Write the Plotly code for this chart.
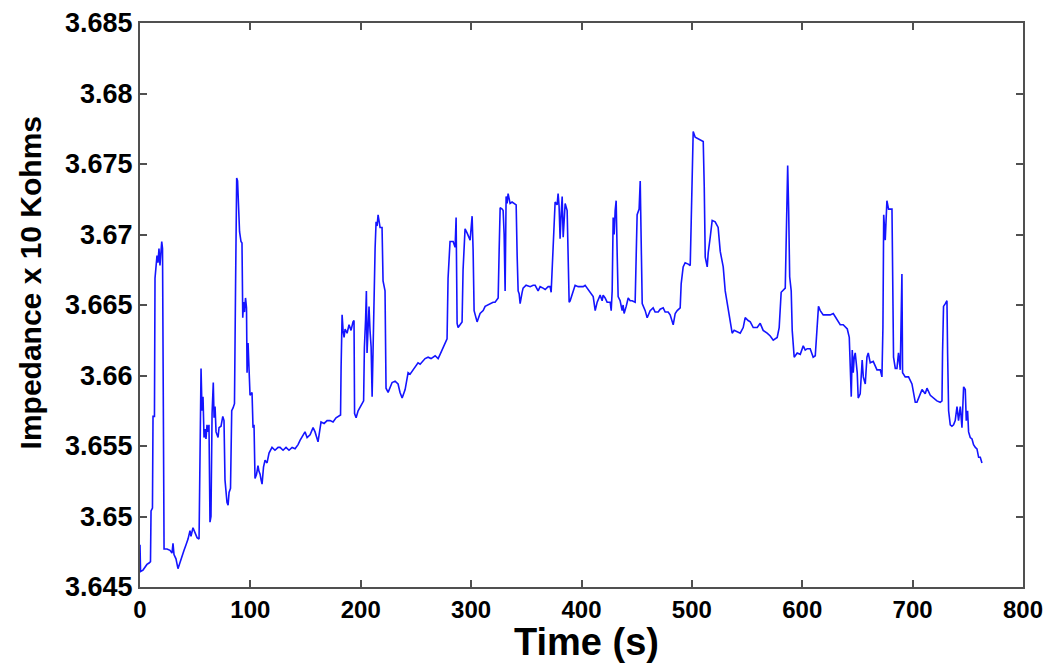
import plotly.graph_objects as go

# Impedance trace (time in s, impedance in x10 kOhm)
time_s = [
    0, 0.5, 2.7, 4.5, 6.3, 8.2, 9.5, 10.0, 11.3, 11.8, 13.1, 13.6, 14.5, 15.4, 16.3, 17.2,
    18.1, 19.0, 19.7, 20.4, 21.1, 21.8, 24.5, 27.2, 29.0, 29.9, 30.8, 32.6, 34.4, 36.3,
    38.1, 39.9, 41.7, 43.5, 45.3, 46.2, 48.0, 49.8, 51.7, 53.5, 54.4, 55.3, 56.2, 57.1,
    58.0, 58.9, 59.8, 60.7, 61.6, 62.5, 63.4, 64.3, 65.3, 66.4, 67.1, 68.0, 68.9, 70.7,
    71.6, 73.4, 75.0, 76.1, 77.0, 78.8, 79.8, 80.7, 82.0, 83.1, 84.3, 85.6, 86.6, 87.6,
    88.4, 89.1, 90.2, 91.5, 92.4, 93.1, 93.8, 94.7, 95.6, 96.5, 97.0, 97.9, 98.8, 99.7,
    101.5, 102.4, 103.3, 104.2, 105.6, 106.9, 107.8, 108.8, 109.7, 110.6, 111.9, 113.3,
    115.1, 116.9, 119.6, 122.3, 125.1, 126.9,
    129.6, 132.3, 135.0, 137.8, 140.5, 143.2, 145.0, 147.7, 149.5, 151.4, 154.1, 156.8,
    158.6, 161.3, 164.0, 166.8, 169.5, 172.2, 174.9, 177.6, 180.4, 181.7, 182.2, 183.1,
    184.0, 184.9, 185.8, 187.6, 189.4, 191.2, 193.0, 193.9, 194.4, 195.8, 197.6, 199.4,
    201.2, 202.6, 203.3, 204.4, 205.1, 205.7, 206.6, 207.5, 208.4, 209.4, 210.3, 211.2,
    212.1, 213.0, 213.9, 214.8, 215.7, 216.6, 217.5, 219.3, 220.2, 222.0, 222.9, 224.8,
    226.6, 228.4, 231.1, 233.8, 235.6, 237.5, 240.2, 242.9, 244.7, 247.4, 249.2, 251.9,
    253.8, 256.5, 258.3, 261.0, 263.7, 267.4, 270.1, 271.9, 274.6, 276.4, 278.2,
    279.1, 280.9, 283.7, 285.5, 286.4, 287.3, 288.2, 290.0, 291.8, 292.7, 294.5, 296.4,
    298.2, 299.1, 300.9, 301.8, 302.7, 305.4, 308.1, 310.9, 312.7, 315.4, 317.2, 319.9,
    321.7, 324.5, 325.4, 326.3, 328.1, 329.0, 329.9, 330.8, 331.7, 332.6, 333.5, 335.3,
    337.1, 339.0, 340.8, 341.7, 342.6, 343.5, 344.4, 346.2, 347.1, 349.8, 353.5, 356.2,
    358.0, 360.7, 362.5, 365.2, 367.1, 369.8, 371.6, 372.5, 374.3, 376.1, 377.9, 378.8,
    379.7, 380.6, 381.6, 382.5, 383.4, 384.3, 385.2, 387.0, 387.9, 388.8, 389.7, 391.5,
    392.4, 394.2, 397.0, 398.8, 401.5, 403.3, 406.0, 407.8,
    410.6, 412.4, 414.2, 416.9, 418.7, 419.6, 421.4, 423.2, 426.0, 426.9, 427.8, 428.7,
    429.6, 430.5, 431.4, 432.3, 433.2, 435.0, 436.8, 437.7, 438.6, 440.5, 442.3, 444.1,
    445.9, 448.6, 449.5, 450.4, 452.2, 453.2, 454.1, 455.0, 457.7, 459.5, 462.2, 464.9,
    466.7, 469.5, 471.3, 474.0, 475.8, 478.5, 480.3, 482.1, 483.1, 484.9, 486.7, 489.4,
    490.3, 492.1, 493.9, 496.7, 498.5, 499.4, 500.3, 501.2, 503.0, 505.7, 507.5, 510.3,
    511.2, 512.1, 513.9, 514.8, 516.6, 518.4, 521.1, 523.8, 525.7, 528.4, 530.2, 532.0,
    534.7, 536.5, 538.3, 541.1, 543.8, 546.5, 548.3, 551.0, 552.9, 555.6, 559.2, 561.9,
    564.6, 568.2, 571.0, 573.7, 577.3, 579.1, 580.9, 584.6, 585.5, 586.8, 587.7, 588.6,
    590.0, 590.9, 592.7, 595.4, 598.2, 600.9, 602.7, 604.5, 607.2, 609.9, 611.8, 613.6,
    614.7, 616.3, 619.0, 622.6, 625.3, 628.1, 631.7, 634.4, 637.1, 640.8, 642.6, 644.4,
    645.3, 646.2, 647.1, 648.0, 649.8, 650.7, 652.5, 654.3, 655.3, 657.1, 658.6, 659.8,
    661.6, 664.3, 667.7, 670.7, 672.2, 673.1, 673.8, 675.2, 676.7, 678.2, 681.3, 681.8,
    682.7, 684.3, 685.8, 687.2, 688.8, 690.3, 690.9, 693.3, 696.3, 699.4, 700.8, 702.4,
    703.9, 705.4, 708.5, 711.4, 713.0, 716.0, 719.0, 722.0, 725.0, 726.6, 727.1, 728.0,
    729.6, 731.1, 731.7, 732.6, 734.1, 735.6, 737.1, 738.6, 740.2, 741.6, 743.2, 744.7,
    746.2, 747.7, 748.6, 749.8, 750.7, 752.2, 753.8, 755.2, 756.8, 758.3, 759.8, 761.3,
    762.8,
]

impedance = [
    3.6480, 3.6461, 3.6462, 3.6464, 3.6466, 3.6467, 3.6468, 3.6504, 3.6506, 3.6571, 3.6571,
    3.6669, 3.6675, 3.6685, 3.6680, 3.6690, 3.6678, 3.6692, 3.6695, 3.6690, 3.6565, 3.6477,
    3.6477, 3.6476, 3.6474, 3.6481, 3.6473, 3.6470, 3.6463, 3.6468, 3.6472, 3.6476, 3.6480,
    3.6484, 3.6490, 3.6486, 3.6492, 3.6488, 3.6485, 3.6484, 3.6545, 3.6605, 3.6575, 3.6585,
    3.6556, 3.6562, 3.6555, 3.6565, 3.6560, 3.6565, 3.6496, 3.6500, 3.6573, 3.6595, 3.6570,
    3.6578, 3.6560, 3.6556, 3.6563, 3.6564, 3.6571, 3.6568, 3.6526, 3.6510, 3.6508, 3.6517,
    3.6520, 3.6575, 3.6577, 3.6580, 3.6665, 3.6740, 3.6738, 3.6725, 3.6702, 3.6695, 3.6694,
    3.6641, 3.6652, 3.6645, 3.6655, 3.6648, 3.6602, 3.6623, 3.6600, 3.6586, 3.6588, 3.6563,
    3.6565, 3.6527, 3.6530, 3.6536, 3.6532, 3.6530, 3.6526, 3.6523, 3.6535, 3.6540, 3.6538,
    3.6545, 3.6549, 3.6547, 3.6549, 3.6549,
    3.6547, 3.6549, 3.6547, 3.6549, 3.6548, 3.6551, 3.6554, 3.6558, 3.6560, 3.6556, 3.6558,
    3.6563, 3.6560, 3.6553, 3.6567, 3.6566, 3.6568, 3.6568, 3.6567, 3.6570, 3.6571, 3.6572,
    3.6606, 3.6643, 3.6632, 3.6627, 3.6633, 3.6630, 3.6636, 3.6632, 3.6638, 3.6639, 3.6573,
    3.6570, 3.6575, 3.6578, 3.6580, 3.6582, 3.6620, 3.6640, 3.6660, 3.6616, 3.6635, 3.6649,
    3.6632, 3.6620, 3.6585, 3.6618, 3.6672, 3.6690, 3.6709, 3.6706, 3.6714, 3.6708, 3.6705,
    3.6705, 3.6667, 3.6660, 3.6591, 3.6588, 3.6592, 3.6595, 3.6596, 3.6594, 3.6588, 3.6584,
    3.6590, 3.6602, 3.6601, 3.6604, 3.6606, 3.6609, 3.6608, 3.6610, 3.6612, 3.6613, 3.6612,
    3.6614, 3.6612, 3.6615, 3.6620, 3.6623, 3.6626,
    3.6669, 3.6695, 3.6695, 3.6691, 3.6712, 3.6637, 3.6634, 3.6636, 3.6638, 3.6675, 3.6704,
    3.6701, 3.6698, 3.6696, 3.6713, 3.6689, 3.6646, 3.6638, 3.6644, 3.6646, 3.6649, 3.6650,
    3.6651, 3.6652, 3.6652, 3.6655, 3.6689, 3.6719, 3.6718, 3.6717, 3.6700, 3.6660, 3.6727,
    3.6722, 3.6729, 3.6722, 3.6723, 3.6722, 3.6721, 3.6685, 3.6660, 3.6658, 3.6651, 3.6659,
    3.6662, 3.6664, 3.6663, 3.6664, 3.6664, 3.6660, 3.6663, 3.6662, 3.6661, 3.6663, 3.6663,
    3.6659, 3.6691, 3.6723, 3.6721, 3.6729, 3.6720, 3.6697, 3.6715, 3.6727, 3.6698, 3.6710,
    3.6722, 3.6717, 3.6684, 3.6652, 3.6653, 3.6658, 3.6660, 3.6664, 3.6663, 3.6663, 3.6663,
    3.6664, 3.6661, 3.6659,
    3.6656, 3.6646, 3.6652, 3.6657, 3.6653, 3.6657, 3.6655, 3.6652, 3.6652, 3.6646, 3.6660,
    3.6712, 3.6700, 3.6717, 3.6724, 3.6687, 3.6656, 3.6653, 3.6646, 3.6650, 3.6644, 3.6649,
    3.6655, 3.6653, 3.6653, 3.6652, 3.6682, 3.6714, 3.6718, 3.6738, 3.6694, 3.6651, 3.6646,
    3.6641, 3.6646, 3.6648, 3.6645, 3.6645, 3.6647, 3.6648, 3.6645, 3.6645, 3.6643, 3.6639,
    3.6636, 3.6644, 3.6646, 3.6648, 3.6665, 3.6677, 3.6680, 3.6679, 3.6678, 3.6709, 3.6757,
    3.6773, 3.6769, 3.6768, 3.6767, 3.6766, 3.6734, 3.6684, 3.6677, 3.6687, 3.6698, 3.6710,
    3.6709, 3.6705, 3.6688, 3.6677, 3.6660, 3.6652, 3.6637, 3.6630, 3.6632, 3.6631, 3.6630,
    3.6634, 3.6641, 3.6639, 3.6638, 3.6634, 3.6634, 3.6637, 3.6632, 3.6630, 3.6628, 3.6625,
    3.6627, 3.6634, 3.6659, 3.6662, 3.6712, 3.6749, 3.6717, 3.6670, 3.6660, 3.6632, 3.6613,
    3.6616, 3.6615, 3.6621, 3.6618, 3.6619, 3.6619, 3.6613, 3.6614, 3.6632, 3.6649, 3.6646,
    3.6643, 3.6643, 3.6643, 3.6644, 3.6639, 3.6636, 3.6636, 3.6633, 3.6627, 3.6585, 3.6618,
    3.6602, 3.6613, 3.6616, 3.6602, 3.6584, 3.6587, 3.6611, 3.6599, 3.6594, 3.6613, 3.6616,
    3.6609, 3.6610, 3.6604, 3.6604, 3.6599, 3.6634, 3.6714, 3.6696, 3.6724, 3.6718, 3.6718,
    3.6660, 3.6613, 3.6605, 3.6605, 3.6616, 3.6604, 3.6672, 3.6602, 3.6599, 3.6599, 3.6594,
    3.6587, 3.6581, 3.6581, 3.6584, 3.6590, 3.6587, 3.6591, 3.6586, 3.6584, 3.6582, 3.6581,
    3.6582, 3.6616, 3.6649, 3.6651, 3.6653, 3.6616, 3.6575, 3.6565, 3.6564, 3.6565, 3.6568,
    3.6578, 3.6568, 3.6578, 3.6563, 3.6592, 3.6590, 3.6568, 3.6575, 3.6560, 3.6556, 3.6555,
    3.6551, 3.6549, 3.6548, 3.6542, 3.6542, 3.6538,
]

y_ticks = [3.645, 3.65, 3.655, 3.66, 3.665, 3.67, 3.675, 3.68, 3.685]
y_tick_labels = ["3.645", "3.65", "3.655", "3.66", "3.665", "3.67", "3.675", "3.68", "3.685"]
x_ticks = [0, 100, 200, 300, 400, 500, 600, 700, 800]

fig = go.Figure()

fig.add_trace(go.Scatter(
    x=time_s, y=impedance,
    mode='lines',
    line=dict(color='#1414ff', width=1.6),
    showlegend=False,
    hoverinfo='skip'
))

axis_style = dict(
    showgrid=False, zeroline=False, automargin=False,
    showline=True, linecolor='#505050', linewidth=2,
    mirror='ticks', ticks='inside', ticklen=7, tickwidth=1.5, tickcolor='#505050',
)

fig.update_xaxes(
    range=[0, 800], tickvals=x_ticks,
    tickfont=dict(family='Liberation Sans', size=24, color='black', weight='bold'),
    **axis_style
)
fig.update_yaxes(
    range=[3.645, 3.685], tickvals=y_ticks, ticktext=y_tick_labels,
    tickfont=dict(family='Liberation Sans', size=27, color='black', weight='bold'),
    ticklabelstandoff=0,
    **axis_style
)

# Axis titles placed as annotations
fig.add_annotation(
    text='Time (s)', xref='paper', yref='paper', x=0.506, y=-0.097,
    xanchor='center', yanchor='middle', showarrow=False,
    font=dict(family='Liberation Sans', size=38, color='black', weight='bold')
)
fig.add_annotation(
    text='Impedance x 10 Kohms', xref='paper', yref='paper', x=-0.1246, y=0.54,
    xanchor='center', yanchor='middle', showarrow=False, textangle=-90,
    font=dict(family='Liberation Sans', size=30, color='black', weight='bold')
)

fig.update_layout(
    width=1050, height=666,
    margin=dict(l=140, r=27, t=23, b=79),
    plot_bgcolor='white', paper_bgcolor='white',
    showlegend=False
)

# the page's default body margin would shift the figure by 8 px
fig.write_html(
    "out.html",
    config={'displayModeBar': False},
    post_script="document.body.style.margin='0px';"
)
